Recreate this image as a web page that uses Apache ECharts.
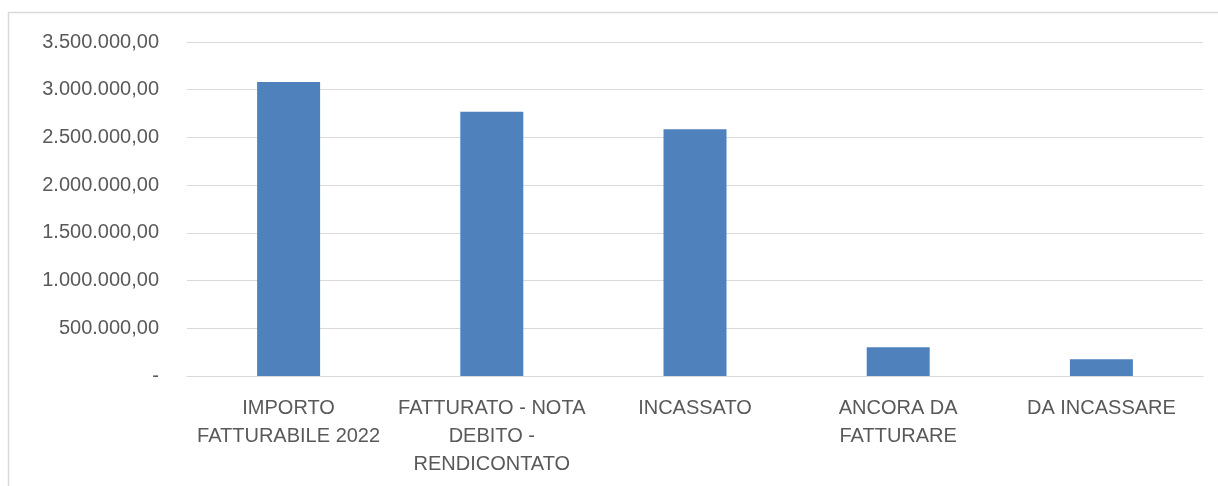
<!DOCTYPE html>
<html>
<head>
<meta charset="utf-8">
<script src="https://cdn.jsdelivr.net/npm/echarts@6/dist/echarts.min.js"></script>
<style>
html,body{margin:0;padding:0;background:#fff;}
#chart{width:1218px;height:486px;}
</style>
</head>
<body>
<div id="chart"></div>
<script>
const categories = [
  "IMPORTO\nFATTURABILE 2022",
  "FATTURATO - NOTA\nDEBITO -\nRENDICONTATO",
  "INCASSATO",
  "ANCORA DA\nFATTURARE",
  "DA INCASSARE"
];
const values = [3080000, 2768000, 2586000, 302000, 176000];
const yMin = 0, yMax = 3500000, yStep = 500000;

function fmtIt(v) {
  if (v === 0) return "-";
  const parts = Math.round(v).toString().replace(/\B(?=(\d{3})+(?!\d))/g, ".");
  return parts + ",00";
}

const chart = echarts.init(document.getElementById('chart'));
chart.setOption({
  animation: false,
  backgroundColor: '#fff',
  textStyle: { fontFamily: 'Liberation Sans' },
  graphic: [{
    type: 'rect',
    shape: { x: 8.5, y: 12.5, width: 1230, height: 500 },
    style: { fill: 'none', stroke: '#d9d9d9', lineWidth: 1.5 },
    silent: true
  }],
  grid: { left: 187, right: 15, top: 42, bottom: 110, containLabel: false },
  xAxis: {
    type: 'category',
    data: categories,
    axisLine: { show: true, lineStyle: { color: '#d9d9d9', width: 1 } },
    axisTick: { show: false },
    axisLabel: { color: '#595959', fontSize: 20, lineHeight: 28, margin: 18, interval: 0 }
  },
  yAxis: {
    type: 'value',
    min: yMin, max: yMax, interval: yStep,
    axisLine: { show: false },
    axisTick: { show: false },
    splitLine: { lineStyle: { color: '#d9d9d9', width: 1 } },
    axisLabel: { color: '#595959', fontSize: 20, margin: 28, formatter: fmtIt }
  },
  series: [{
    type: 'bar',
    data: values,
    barWidth: '31%',
    itemStyle: { color: '#4F81BD' }
  }]
});
</script>
</body>
</html>
